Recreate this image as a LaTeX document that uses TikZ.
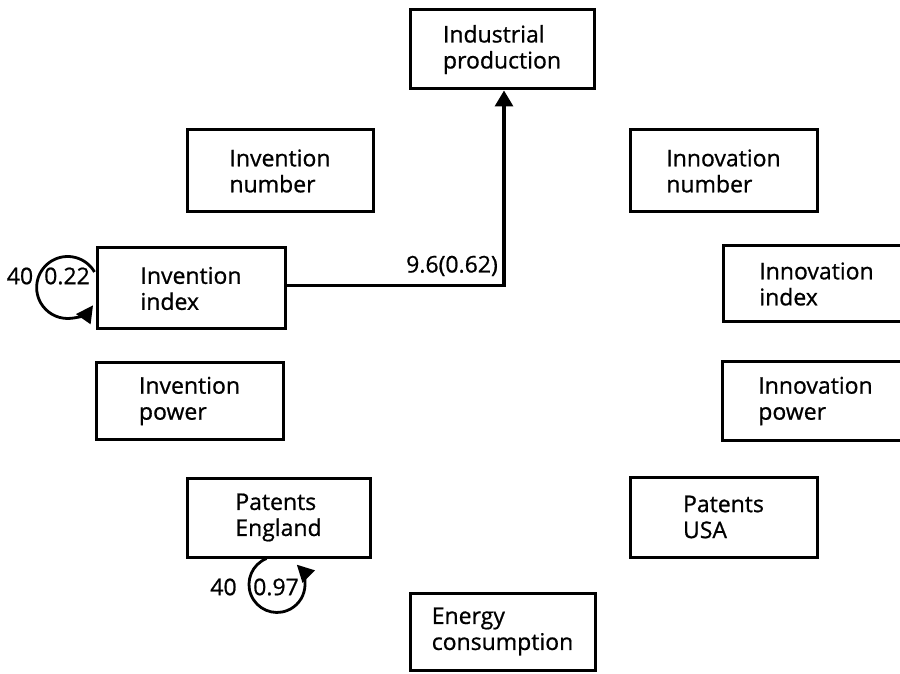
\documentclass[tikz,border=0pt]{standalone}
\usepackage{fontspec}
\setmainfont{Open Sans}[FakeBold=0.8]
\usetikzlibrary{arrows.meta}
\begin{document}
\begin{tikzpicture}[x=1pt,y=1pt,
  font=\fontsize{23}{26}\selectfont,
  box/.style={draw,line width=3pt,rectangle,align=left,inner sep=0pt,
    minimum width=#1},
  box/.default=186pt,
  link/.style={line width=3.4pt,-{Triangle[length=16pt,width=18pt]}},
  loopy/.style={line width=2.8pt,-{Triangle[length=17pt,width=17pt]}},
  lbl/.style={inner sep=0pt}]
\clip (0,0) rectangle (900,673);
\fill[white] (0,0) rectangle (900,673);

% variable boxes
\node[box=184pt,minimum height=79pt] (ind) at (502,623.5) {Industrial\\production};
\node[box=186pt,minimum height=82pt] (invnum) at (280,502) {Invention\\number};
\node[box=188pt,minimum height=81pt] (invidx) at (191,384.5) {Invention\\index};
\node[box=187pt,minimum height=76pt] (invpow) at (189.5,272) {Invention\\power};
\node[box=183pt,minimum height=79pt] (patE) at (278.5,155.5) {Patents\\England};
\node[box=185pt,minimum height=77pt] (energy) at (502.5,41.5) {Energy\\consumption};
\node[box=187pt,minimum height=82pt] (innum) at (723.5,502) {Innovation\\number};
\node[box=187pt,minimum height=76pt] (inidx) at (816.5,389) {Innovation\\index};
\node[box=187pt,minimum height=78pt] (inpow) at (815.5,272) {Innovation\\power};
\node[box=187pt,minimum height=80pt] (patU) at (723.5,156) {Patents\\USA};

% invention index drives industrial production
\draw[link] ([yshift=3pt]invidx.east) -| coordinate (bend) ([xshift=2pt]ind.south);
\node[lbl,anchor=base east] (w1) at ([shift={(-6pt,13pt)}]bend) {9.6(0.62)};

% self-loop on invention index
\draw[loopy] ([shift={(-1pt,16.5pt)}]invidx.west)
  arc[start angle=30,end angle=325,radius=31pt];
\node[lbl] (l1a) at (20,397) {40};
\node[lbl] (l1b) at (67,397) {0.22};

% self-loop on patents England
\draw[loopy] ([xshift=-12pt]patE.south)
  arc[start angle=112,end angle=405,radius=28pt];
\node[lbl] (l2a) at (223.5,86) {40};
\node[lbl] (l2b) at (276,86) {0.97};
\end{tikzpicture}
\end{document}
